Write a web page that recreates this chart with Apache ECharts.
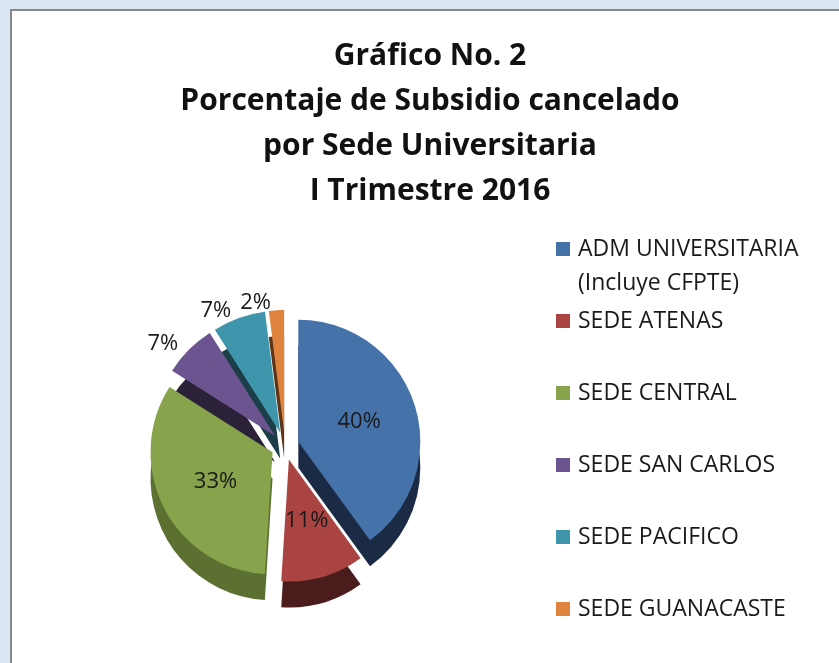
<!DOCTYPE html>
<html>
<head>
<meta charset="utf-8">
<script src="https://cdn.jsdelivr.net/npm/echarts@6/dist/echarts.min.js"></script>
<style>
  html, body { margin: 0; padding: 0; }
  body { width: 839px; height: 663px; background: #dce6f3; position: relative; overflow: hidden; }
  #frame { position: absolute; left: 10px; top: 9px; right: 0; bottom: 0; background: #fff;
           border-left: 2px solid #8a8a8a; border-top: 2px solid #8a8a8a; }
  #chart { position: absolute; left: 0; top: 0; width: 839px; height: 663px; }
</style>
</head>
<body>
<div id="frame"></div>
<div id="chart"></div>
<script>
// datos del gráfico
const sedes = ['ADM UNIVERSITARIA\n(Incluye CFPTE)', 'SEDE ATENAS', 'SEDE CENTRAL',
               'SEDE SAN CARLOS', 'SEDE PACIFICO', 'SEDE GUANACASTE'];
const porcentajes = [40, 11, 33, 7, 7, 2];
const colores = ['#4672aa', '#a94442', '#87a34b', '#6c5490', '#3f96ac', '#e0833e'];
const coloresLado = ['#1b2b45', '#4a1c1b', '#5c7032', '#2b2138', '#1c3e48', '#5e3418'];
const etiquetaFuera = [false, false, false, true, true, true];

const chart = echarts.init(document.getElementById('chart'));

const caraSuperior = sedes.map((s, i) => ({
  name: s,
  value: porcentajes[i],
  selected: true,
  itemStyle: { color: colores[i] },
  label: etiquetaFuera[i]
    ? { position: 'outside' }
    : { position: 'inside' }
}));

const lado = sedes.map((s, i) => ({
  name: s,
  value: porcentajes[i],
  selected: true,
  itemStyle: { color: coloresLado[i] }
}));

const itemsLeyenda = sedes.map((s, i) => ({ name: s, itemStyle: { color: colores[i] } }));

const textoLeyenda = {
  fontFamily: 'Open Sans',
  fontSize: 23,
  lineHeight: 34,
  color: '#1a1a1a',
  padding: [0, 0, 0, 3]
};

const option = {
  animation: false,
  title: {
    text: 'Gráfico No. 2\nPorcentaje de Subsidio cancelado\npor Sede Universitaria\nI Trimestre 2016',
    left: 425,
    top: 29,
    textAlign: 'center',
    textStyle: {
      fontFamily: 'Open Sans',
      fontWeight: 'bold',
      fontSize: 30,
      lineHeight: 45,
      color: '#111'
    }
  },
  legend: [
    {
      // línea vacía arriba para que el cuadro quede junto a la primera línea
      orient: 'vertical',
      left: 551,
      top: 193,
      itemWidth: 14,
      itemHeight: 14,
      icon: 'rect',
      data: itemsLeyenda.slice(0, 1),
      formatter: name => '\u00a0\n' + name,
      textStyle: textoLeyenda
    },
    {
      orient: 'vertical',
      left: 551,
      top: 299,
      itemWidth: 14,
      itemHeight: 14,
      itemGap: 38,
      icon: 'rect',
      data: itemsLeyenda.slice(1),
      textStyle: textoLeyenda
    }
  ],
  series: [
    {
      type: 'pie',
      center: [285, 472],
      radius: 122,
      startAngle: 90,
      clockwise: true,
      selectedMode: 'multiple',
      selectedOffset: 14,
      silent: true,
      label: { show: false },
      labelLine: { show: false },
      data: lado,
      z: 1
    },
    {
      type: 'pie',
      center: [285, 446],
      radius: 122,
      startAngle: 90,
      clockwise: true,
      selectedMode: 'multiple',
      selectedOffset: 14,
      silent: true,
      avoidLabelOverlap: false,
      label: {
        show: true,
        formatter: '{c}%',
        fontFamily: 'Open Sans',
        fontSize: 22,
        color: '#1a1a1a'
      },
      labelLine: { show: false, length: 8, length2: 0 },
      data: caraSuperior,
      z: 2
    }
  ]
};

chart.setOption(option);
</script>
</body>
</html>
